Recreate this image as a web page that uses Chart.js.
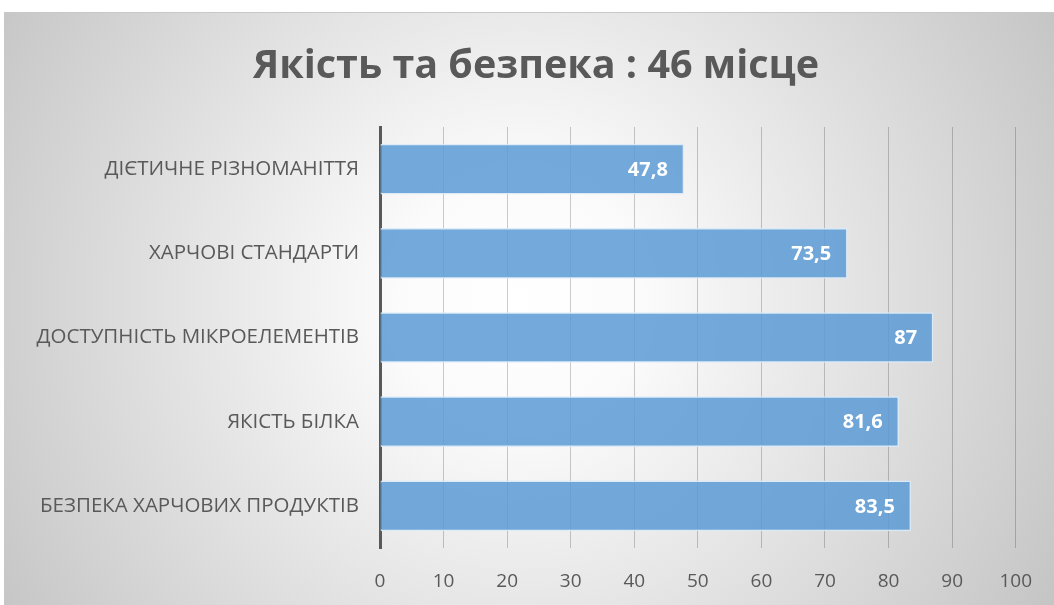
<!DOCTYPE html>
<html>
<head>
<meta charset="utf-8">
<script src="https://cdn.jsdelivr.net/npm/chart.js@4"></script>
<style>
  html, body { margin: 0; padding: 0; background: #fff; }
  #wrap { width: 1054px; height: 605px; }
</style>
</head>
<body>
<div id="wrap"><canvas id="grafico"></canvas></div>
<script>
// Дані діаграми
const categorias = [
  'ДІЄТИЧНЕ РІЗНОМАНІТТЯ',
  'ХАРЧОВІ СТАНДАРТИ',
  'ДОСТУПНІСТЬ МІКРОЕЛЕМЕНТІВ',
  'ЯКІСТЬ БІЛКА',
  'БЕЗПЕКА ХАРЧОВИХ ПРОДУКТІВ'
];
const valores = [47.8, 73.5, 87, 81.6, 83.5];
const ticksX = [0, 10, 20, 30, 40, 50, 60, 70, 80, 90, 100];
const titulo = 'Якість та безпека : 46 місце';

// Фон: радіальний градієнт + заголовок
const fondo = {
  id: 'fondo',
  beforeDraw(chart) {
    const { ctx, width, height } = chart;
    ctx.save();
    ctx.fillStyle = '#ffffff';
    ctx.fillRect(0, 0, width, height);
    const g = ctx.createRadialGradient(520, 300, 0, 520, 300, 620);
    g.addColorStop(0, '#ffffff');
    g.addColorStop(0.2, '#fbfbfb');
    g.addColorStop(1, '#c4c4c4');
    ctx.fillStyle = g;
    ctx.fillRect(4, 12, width - 4, height - 12);
    ctx.strokeStyle = '#c8c8c8';
    ctx.lineWidth = 1;
    ctx.beginPath();
    ctx.moveTo(4, 12.5);
    ctx.lineTo(width, 12.5);
    ctx.stroke();
    // заголовок (центрований над областю графіка, як в Excel)
    ctx.font = 'bold 39.5px "Open Sans"';
    ctx.fillStyle = '#595959';
    ctx.textAlign = 'center';
    ctx.textBaseline = 'middle';
    ctx.fillText(titulo, 536, 66.5);
    ctx.restore();
  }
};

// Підписи значень всередині смуг
const etiquetas = {
  id: 'etiquetas',
  afterDatasetsDraw(chart) {
    const { ctx } = chart;
    const meta = chart.getDatasetMeta(0);
    ctx.save();
    ctx.font = 'bold 20px "Open Sans"';
    ctx.fillStyle = '#ffffff';
    ctx.textAlign = 'right';
    ctx.textBaseline = 'middle';
    meta.data.forEach((bar, i) => {
      const txt = String(valores[i]).replace('.', ',');
      ctx.fillText(txt, bar.x - 16, bar.y + 1);
    });
    ctx.restore();
  }
};

const ctx = document.getElementById('grafico').getContext('2d');
new Chart(ctx, {
  type: 'bar',
  data: {
    labels: categorias,
    datasets: [{
      data: valores,
      backgroundColor: 'rgba(91,155,213,0.85)',
      borderColor: 'rgba(220,234,247,0.9)',
      borderWidth: 1.5,
      borderSkipped: 'start',
      barThickness: 50
    }]
  },
  options: {
    indexAxis: 'y',
    responsive: true,
    maintainAspectRatio: false,
    animation: false,
    layout: { padding: { left: 4, right: 38, top: 127, bottom: 0 } },
    plugins: {
      legend: { display: false },
      tooltip: { enabled: false },
      title: { display: false }
    },
    scales: {
      x: {
        min: 0,
        max: 100,
        afterBuildTicks(scale) {
          scale.ticks = ticksX.map(v => ({ value: v }));
        },
        afterFit(scale) { scale.height = 57; },
        grid: { color: 'rgba(0,0,0,0.2)', lineWidth: 1, drawTicks: false },
        border: { display: false },
        ticks: {
          color: '#595959',
          font: { family: '"Open Sans"', size: 19 },
          padding: 22
        }
      },
      y: {
        afterFit(scale) { scale.width = 376; },
        grid: { display: false },
        border: { display: true, color: '#595959', width: 3 },
        ticks: {
          color: '#595959',
          font: { family: '"Open Sans"', size: 20.5 },
          padding: 13
        }
      }
    }
  },
  plugins: [fondo, etiquetas]
});
</script>
</body>
</html>
